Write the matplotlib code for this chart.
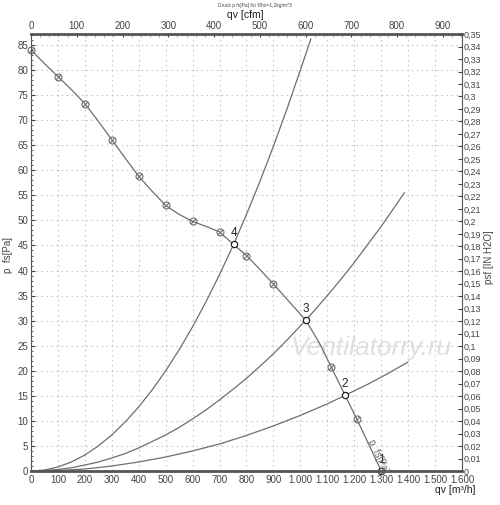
import numpy as np
import matplotlib
matplotlib.use('Agg')
import matplotlib.pyplot as plt
from matplotlib.ticker import MultipleLocator, FuncFormatter

plt.rcParams['font.family'] = ['Liberation Sans', 'DejaVu Sans']

# fan curve p_fs [Pa] over qv [m3/h]
fan_q = [0, 50, 100, 150, 200, 250, 300, 350, 400, 450, 500, 550, 600, 650, 700, 752,
         800, 850, 900, 950, 1020, 1070, 1115, 1166, 1210, 1255, 1300]
fan_p = [84.0, 81.3, 78.7, 76.1, 73.3, 69.8, 66.1, 62.4, 58.8, 55.8, 53.0, 51.2, 49.8, 48.8, 47.7, 45.2,
         43.0, 40.2, 37.3, 34.3, 30.1, 25.6, 20.7, 15.1, 10.3, 5.2, 0.0]
# points on the fan curve drawn with a slashed circle
mark_q = [0, 100, 200, 300, 400, 500, 600, 700, 800, 900, 1115, 1210]
mark_p = [84.0, 78.7, 73.3, 66.1, 58.8, 53.0, 49.8, 47.7, 43.0, 37.3, 20.7, 10.3]

# operating points 1..4
op_q = [1300, 1166, 1020, 752]
op_p = [0.0, 15.1, 30.1, 45.2]
op_lbl = ['1', '2', '3', '4']

# system curves
sysA_q = [0, 50, 100, 150, 200, 250, 300, 350, 400, 450, 500, 550, 600, 650, 700, 752,
          800, 850, 900, 950, 1000, 1039]
sysA_p = [0, 0.2, 0.8, 1.8, 3.2, 5.0, 7.2, 9.8, 12.8, 16.2, 20.0, 24.2, 28.8, 33.8, 39.2, 45.2,
          51.2, 57.8, 64.8, 72.2, 80.0, 86.2]
sysB_q = [0, 50, 100, 150, 200, 250, 300, 350, 400, 450, 500, 550, 600, 650, 700, 750, 800,
          850, 900, 950, 1020, 1050, 1100, 1150, 1200, 1250, 1300, 1350, 1386]
sysB_p = [0, 0.1, 0.3, 0.65, 1.2, 1.8, 2.6, 3.5, 4.6, 5.9, 7.2, 8.7, 10.4, 12.2, 14.2, 16.3, 18.5,
          20.9, 23.4, 26.1, 30.1, 31.9, 35.0, 38.2, 41.6, 45.2, 48.8, 52.7, 55.5]
sysC_q = [0, 50, 100, 150, 200, 300, 400, 500, 600, 700, 800, 900, 1000, 1100, 1166, 1250, 1320, 1398]
sysC_p = [0, 0.03, 0.1, 0.25, 0.4, 1.0, 1.8, 2.8, 4.0, 5.4, 7.1, 9.0, 11.1, 13.4, 15.1, 17.3, 19.3, 21.7]

lc = '#6e6e6e'
tc = '#444444'

fig = plt.figure(figsize=(5.0, 5.05), dpi=100)
ax = fig.add_axes([0.062, 0.0673, 0.862, 0.8654])
ax.set_xlim(0, 1600)
ax.set_ylim(0, 87.2)

ax.xaxis.set_major_locator(MultipleLocator(100))
ax.yaxis.set_major_locator(MultipleLocator(5))
ax.yaxis.set_minor_locator(MultipleLocator(1))
ax.xaxis.set_minor_locator(MultipleLocator(20))
ax.grid(True, which='major', color='#c8c8c8', linestyle=(0, (1.5, 3)), linewidth=0.8)
ax.set_axisbelow(True)

def thousands(v, pos):
    v = int(round(v))
    if v >= 1000:
        return '{}.{:03d}'.format(v // 1000, v % 1000)
    return str(v)

ax.xaxis.set_major_formatter(FuncFormatter(thousands))
ax.tick_params(axis='both', which='major', labelsize=7, labelcolor=tc, color=tc,
               direction='in', length=3, pad=2)
ax.tick_params(axis='both', which='minor', direction='in', length=1.5, color=tc)
ax.tick_params(axis='x', which='both', length=0, pad=3)

for s in ['top', 'bottom']:
    ax.spines[s].set_linewidth(2)
    ax.spines[s].set_color('#555555')
for s in ['left', 'right']:
    ax.spines[s].set_linewidth(0.8)
    ax.spines[s].set_color('#555555')

ax.plot(sysA_q, sysA_p, color=lc, lw=0.9)
ax.plot(sysB_q, sysB_p, color=lc, lw=0.9)
ax.plot(sysC_q, sysC_p, color=lc, lw=0.9)
ax.plot(fan_q, fan_p, color=lc, lw=0.9)
ax.plot(mark_q, mark_p, ls='none', marker='o', ms=5, mfc='none', mec=lc, mew=0.8, clip_on=False)
ax.plot(mark_q, mark_p, ls='none', marker=[(-1, -1), (1, 1)], ms=3.5, mfc='none', mec=lc, mew=0.8, clip_on=False)
ax.plot(op_q, op_p, ls='none', marker='o', ms=4.5, mfc='white', mec='#222222', mew=0.9, clip_on=False)
for q, p, t in zip(op_q, op_p, op_lbl):
    ax.text(q, p + 1.0, t, fontsize=8.5, color='#222222', ha='center', va='bottom')

ax.text(1288, 3.0, 'p  fs[Pa]', fontsize=7, color=lc, rotation=-65,
        ha='center', va='center', rotation_mode='anchor')
ax.text(1265, 24.5, 'Ventilatorry.ru', fontsize=19, style='italic', color='#e0e0e0',
        ha='center', va='center', zorder=0)

# right axis: inch water column
ax2 = ax.twinx()
ax2.set_ylim(0, 87.2 / 249.09)
ax2.yaxis.set_major_locator(MultipleLocator(0.01))
ax2.yaxis.set_major_formatter(FuncFormatter(lambda v, p: ('%g' % round(v, 2)).replace('.', ',')))
ax2.tick_params(axis='y', labelsize=6.5, labelcolor=tc, color=tc, direction='in', length=3, pad=1.5)
for s in ax2.spines.values():
    s.set_visible(False)

# top axis: cfm
top = ax.secondary_xaxis('top', functions=(lambda x: x / 1.699, lambda c: c * 1.699))
top.xaxis.set_major_locator(MultipleLocator(100))
top.xaxis.set_minor_locator(MultipleLocator(20))
top.tick_params(axis='x', which='major', labelsize=7, labelcolor=tc, color=tc, direction='in', length=2, pad=2)
top.tick_params(axis='x', which='minor', direction='in', length=2, color='#999999')
top.spines['top'].set_visible(False)

fig.text(0.016, 0.495, 'p  fs[Pa]', rotation=90, fontsize=7, color=tc, ha='center', va='center')
fig.text(0.978, 0.49, 'psf [IN H2O]', rotation=90, fontsize=7, color=tc, ha='center', va='center')
fig.text(0.91, 0.029, 'qv [m\u00b3/h]', fontsize=7.5, color='#222222', ha='center', va='center')
fig.text(0.49, 0.970, 'qv [cfm]', fontsize=7.5, color='#222222', ha='center', va='center')
fig.text(0.51, 0.990, 'Druck p fs[Pa] f\u00fcr Rho=1,2kg/m^3', fontsize=3.5, color='#444444',
         ha='center', va='center')

fig.savefig('out.png', dpi=100)
